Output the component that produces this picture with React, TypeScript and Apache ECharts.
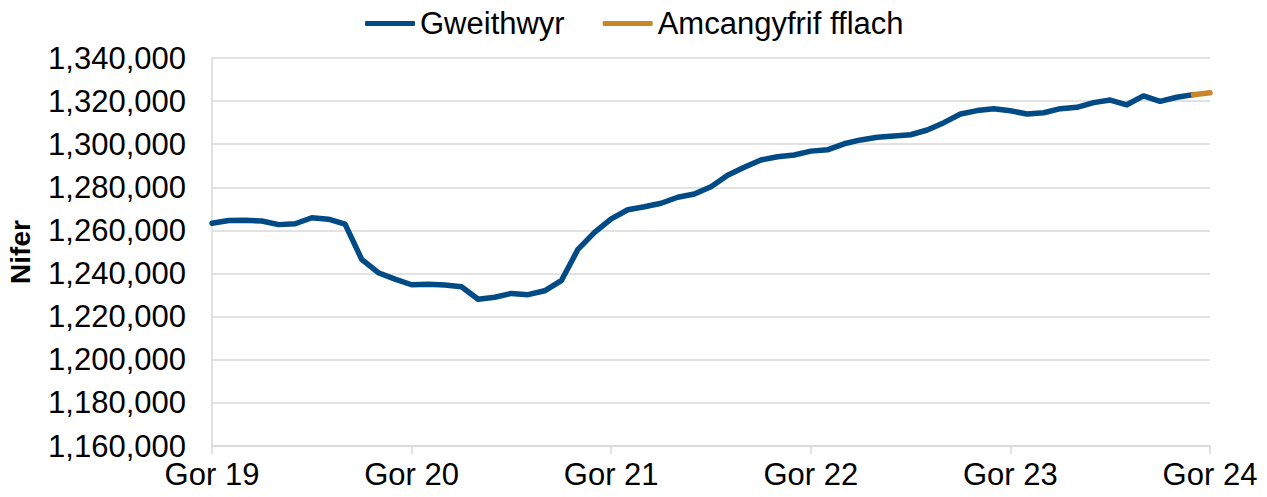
import React, { useEffect, useRef } from "react";
import * as echarts from "echarts";

const monthNames = ["Gor", "Awst", "Medi", "Hyd", "Tach", "Rhag", "Ion", "Chwe", "Maw", "Ebr", "Mai", "Meh"];
const startYear = 19;
const categories: string[] = [];
for (let i = 0; i <= 60; i++) {
  const m = i % 12;
  const yr = startYear + Math.floor((i + 6) / 12);
  categories.push(`${monthNames[m]} ${yr}`);
}

const workers: (number | null)[] = [
  1263300, 1264600, 1264700, 1264400, 1262700, 1263100, 1265900, 1265200, 1262900, 1246600,
  1240400, 1237400, 1234800, 1235000, 1234700, 1233900, 1228100, 1229000, 1230800, 1230200,
  1232000, 1236700, 1251200, 1259100, 1265400, 1269600, 1271000, 1272600, 1275400, 1276900,
  1280300, 1285600, 1289300, 1292700, 1294200, 1295000, 1296800, 1297400, 1300200, 1302000,
  1303200, 1303800, 1304400, 1306600, 1310000, 1314000, 1315600, 1316500, 1315500, 1314000,
  1314600, 1316500, 1317100, 1319300, 1320500, 1318300, 1322400, 1319900, 1321800, 1323000,
  null,
];

const flashIndex = [59, 60];
const flashValues = [1323000, 1323900];
const flash: (number | null)[] = categories.map((_, i) => {
  const k = flashIndex.indexOf(i);
  return k >= 0 ? flashValues[k] : null;
});

const yMin = 1160000;
const yMax = 1340000;
const yStep = 20000;

const FONT = "'Liberation Sans', Arial, sans-serif";

export default function App() {
  const ref = useRef<HTMLDivElement>(null);
  useEffect(() => {
    if (!ref.current) return;
    const chart = echarts.init(ref.current, undefined, { renderer: "svg" });
    chart.setOption({
      animation: false,
      backgroundColor: "#ffffff",
      textStyle: { fontFamily: FONT },
      legend: {
        top: 8,
        left: 365,
        padding: 0,
        itemGap: 38,
        itemWidth: 50,
        itemHeight: 5,
        icon: "roundRect",
        textStyle: { fontSize: 31, color: "#000", fontFamily: FONT },
        data: ["Gweithwyr", "Amcangyfrif fflach"],
      },
      grid: { left: 212, right: 57, top: 58, bottom: 51, containLabel: false, outerBoundsMode: "none" },
      xAxis: {
        type: "category",
        data: categories,
        boundaryGap: false,
        axisLine: { show: true, lineStyle: { color: "#d9d9d9", width: 1.5 } },
        axisTick: { show: true, interval: 11, length: 8, lineStyle: { color: "#d9d9d9", width: 1.5 } },
        axisLabel: { interval: 11, fontSize: 31, color: "#000", margin: 13, fontFamily: FONT },
        splitLine: { show: false },
      },
      yAxis: {
        type: "value",
        min: yMin,
        max: yMax,
        interval: yStep,
        name: "Nifer",
        nameLocation: "middle",
        nameRotate: 90,
        nameGap: 178,
        nameTextStyle: { fontSize: 28, fontWeight: "bold", color: "#000", fontFamily: FONT },
        axisLine: { show: true, lineStyle: { color: "#d9d9d9", width: 1.5 } },
        axisTick: { show: false },
        axisLabel: {
          fontSize: 31,
          color: "#000",
          margin: 26,
          fontFamily: FONT,
          formatter: (v: number) => v.toLocaleString("en-US"),
        },
        splitLine: { show: true, lineStyle: { color: "#d9d9d9", width: 1.5 } },
      },
      series: [
        {
          name: "Gweithwyr",
          type: "line",
          data: workers,
          symbol: "none",
          color: "#004b85",
          lineStyle: { width: 5.5, color: "#004b85", cap: "round", join: "round" },
        },
        {
          name: "Amcangyfrif fflach",
          type: "line",
          data: flash,
          symbol: "none",
          color: "#c8862a",
          lineStyle: { width: 5.5, color: "#c8862a", cap: "round", join: "round" },
        },
      ],
    });
    return () => chart.dispose();
  }, []);
  return (
    <div
      ref={ref}
      style={{ position: "absolute", left: 0, top: 0, width: 1267, height: 497 }}
    />
  );
}
